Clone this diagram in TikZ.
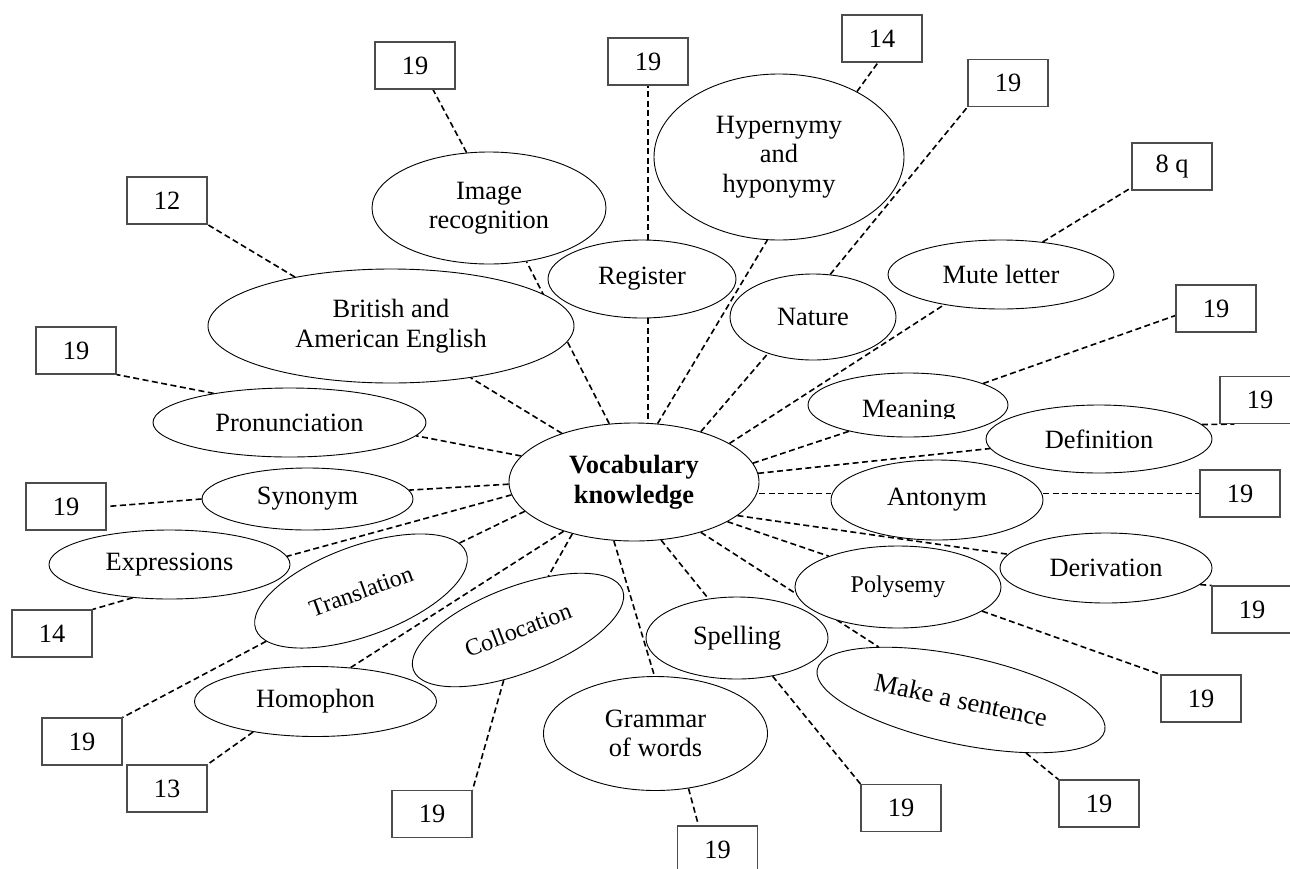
\documentclass[tikz,border=0pt]{standalone}
\usepackage{fontspec}
\setmainfont{Liberation Serif}
\usetikzlibrary{shapes.geometric,backgrounds}
\newcommand\fsbig{\fontsize{26.4}{29.5}\selectfont}
\newcommand\fssmall{\fontsize{24}{27}\selectfont}
\begin{document}
\begin{tikzpicture}[x=1pt,y=-1pt,
  leaf/.style={ellipse, draw=black, fill=white, line width=0.9pt, inner sep=0pt, align=center, font=\fsbig},
  sz/.style 2 args={minimum width=#1pt, minimum height=#2pt},
  num/.style={rectangle, draw=black!70, fill=white, line width=1.1pt, minimum width=80pt, minimum height=47pt, inner sep=0pt, font=\fsbig},
  link/.style={line width=1.6pt, dash pattern=on 6pt off 3.5pt}]
\useasboundingbox (0,0) rectangle (1290,868);

% central node
\node[leaf, sz={250}{118}, font=\fsbig\bfseries] (vk) at (634,482) {Vocabulary\\knowledge};

% leaves
\node[leaf, sz={234}{112}] (ir) at (489,208) {Image\\recognition};
\node[leaf, sz={188}{78}] (reg) at (642,279) {Register};
\node[leaf, sz={250}{166}] (hyp) at (779,157) {Hypernymy\\and\\hyponymy};
\node[leaf, sz={166}{86}] (nat) at (813,317) {Nature};
\node[leaf, sz={226}{69}] (mute) at (1001,274.5) {Mute letter};
\node[leaf, sz={200}{64}] (mean) at (908,405) {};
\begin{scope}
  \clip (850,380) rectangle (970,418);
  \node[anchor=base, font=\fsbig, inner sep=0pt] (meantext) at (909,417) {Meaning};
\end{scope}
\node[leaf, sz={226}{68}] (def) at (1099,439) {Definition};
\node[leaf, sz={212}{80}] (ant) at (937,500) {Antonym};
\node[leaf, sz={212}{70}] (der) at (1106,568) {Derivation};
\node[leaf, sz={206}{82}, font=\fssmall] (poly) at (898,587) {Polysemy};
\node[leaf, sz={294}{88}, rotate=-12] (make) at (961,700) {Make a sentence};
\node[leaf, sz={182}{82}] (spell) at (737,638) {Spelling};
\node[leaf, sz={224}{114}] (gram) at (655.5,733.5) {Grammar\\of words};
\node[leaf, sz={224}{86}, rotate=21, font=\fssmall] (coll) at (518,630) {Collocation};
\node[leaf, sz={242}{70}] (homo) at (315.5,701.5) {Homophon};
\node[leaf, sz={224}{90}, rotate=20, font=\fssmall] (trans) at (361,591) {Translation};
\node[leaf, sz={241}{69}] (expr) at (169.5,564.5) {Expressions};
\node[leaf, sz={211}{62}] (syn) at (307.5,499) {Synonym};
\node[leaf, sz={273}{69}] (pron) at (289.5,422.5) {Pronunciation};
\node[leaf, sz={366}{114}] (brit) at (391,326) {British and\\American English};

% number boxes
\node[num] (irbox) at (415,65.5) {19};
\node[num] (regbox) at (648,61.5) {19};
\node[num] (hypbox) at (882,38.5) {14};
\node[num] (natbox) at (1008,83) {19};
\node[num] (mutebox) at (1172,166.5) {8 q};
\node[num] (meanbox) at (1216,308.5) {19};
\node[num] (defbox) at (1260,400) {19};
\node[num] (antbox) at (1240,493.5) {19};
\node[num] (derbox) at (1252,609.5) {19};
\node[num] (polybox) at (1201,698.5) {19};
\node[num] (makebox) at (1099,803.5) {19};
\node[num] (spellbox) at (901,808) {19};
\node[num] (grambox) at (717.5,849.5) {19};
\node[num] (collbox) at (432,814) {19};
\node[num] (homobox) at (167,788.5) {13};
\node[num] (transbox) at (82,741.5) {19};
\node[num] (exprbox) at (52,633.5) {14};
\node[num] (synbox) at (66,506.5) {19};
\node[num] (pronbox) at (76,350.5) {19};
\node[num] (britbox) at (167,200.5) {12};

\begin{scope}[on background layer]
  % centre to leaves
  \draw[link] (vk.146) -- (brit.-33);
  \draw[link] (vk.113) -- (ir.-55);
  \draw[link] (reg.south -| regbox) -- (vk.north -| regbox);
  \draw[link] (vk.68) -- (hyp.262);
  \draw[link] (vk.37) -- (nat.219);
  \draw[link] (vk.22) -- (mute.208);
  \draw[link] (vk.9) -- (mean.204);
  \draw[link] (vk.4) -- (def.185);
  \draw[link] (vk.east |- antbox) -- (ant.west |- antbox);
  \draw[link] (vk.-18) -- (der.172);
  \draw[link] (vk.-23) -- (poly.156);
  \draw[link] (vk.-37) -- (make);
  \draw[link] (vk.-65) -- (spell.126);
  \draw[link] (vk.-109) -- (gram.91);
  \draw[link] (vk.220) -- (coll);
  \draw[link] (vk.215) -- (homo.44);
  \draw[link] (vk.195) -- (trans);
  \draw[link] (vk.186) -- (expr.4);
  \draw[link] (vk.181) -- (syn.5);
  \draw[link] (vk.167) -- (pron.-6);
  % leaves to boxes
  \draw[link] (brit.153) -- (britbox.south east);
  \draw[link] (pron.159) -- (pronbox.south east);
  \draw[link] (syn.west) -- (synbox.east);
  \draw[link] (expr.222) -- (exprbox.north east);
  \draw[link] (trans) -- (transbox.north east);
  \draw[link] (homo.206) -- (homobox.north east);
  \draw[link] (coll) -- (collbox.north east);
  \draw[link] (gram.-59) -- ([xshift=-19pt]grambox.north);
  \draw[link] (spell.-47) -- (spellbox.north west);
  \draw[link] (make) -- (makebox.north west);
  \draw[link] (poly.-16) -- (polybox.north west);
  \draw[link] (der.-10) -- (derbox.north west);
  \draw[link] (ant.east |- antbox) -- (antbox);
  \draw[link] (def.8) -- ([xshift=15pt]defbox.south west);
  \draw[link] (mean.16) -- ([yshift=-7pt]meanbox.west);
  \draw[link] (mute.38) -- ([yshift=3pt]mutebox.south west);
  \draw[link] (nat.68) -- (natbox.south west);
  \draw[link] (hyp.40) -- ([xshift=-4pt]hypbox.south);
  \draw[link] (reg.north -| regbox) -- (regbox);
  \draw[link] (ir.112) -- ([xshift=18pt]irbox.south);
\end{scope}
\end{tikzpicture}
\end{document}
